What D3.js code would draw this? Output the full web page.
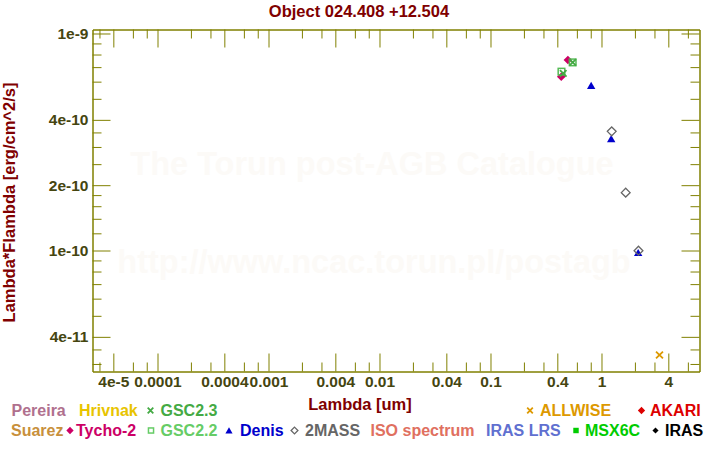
<!DOCTYPE html>
<html><head><meta charset="utf-8">
<script src="https://cdn.jsdelivr.net/npm/d3@7"></script>
<style>
html,body{margin:0;padding:0;background:#fff;}
svg{display:block;font-family:"Liberation Sans",Arial,Helvetica,sans-serif;font-weight:bold;}
</style></head>
<body>
<script>
// ---- data ----
const titleText = "Object 024.408 +12.504";
const xTitle = "Lambda [um]";
const yTitle = "Lambda*Flambda [erg/cm^2/s]";

const tychoLambda = [0.498, 0.434];
const tychoFlux   = [7.55e-10, 6.32e-10];
const gsc22Lambda = [0.436, 0.550];
const gsc22Flux   = [6.67e-10, 7.36e-10];
const gsc23Lambda = [0.452, 0.550];
const gsc23Flux   = [6.55e-10, 7.36e-10];
const denisLambda = [0.807, 1.223, 2.14];
const denisFlux   = [5.76e-10, 3.27e-10, 9.77e-11];
const twomassLambda = [1.236, 1.652, 2.154];
const twomassFlux   = [3.54e-10, 1.848e-10, 9.98e-11];
const allwiseLambda = [3.33];
const allwiseFlux   = [3.30e-11];

const xMajorTicks = [4e-5, 1e-4, 4e-4, 1e-3, 4e-3, 1e-2, 4e-2, 1e-1, 4e-1, 1, 4];
const xMajorLabels = ["4e-5","0.0001","0.0004","0.001","0.004","0.01","0.04","0.1","0.4","1","4"];
const xMinorMult = [2, 3, 6, 8];
const yMajorTicks = [1e-9, 4e-10, 2e-10, 1e-10, 4e-11];
const yMajorLabels = ["1e-9","4e-10","2e-10","1e-10","4e-11"];
const yMinorMult = [1.2, 1.4, 1.6, 1.8, 2.5, 3, 3.5, 5, 6, 7, 8, 9];

const legendNames = ["Pereira","Hrivnak","GSC2.3","ALLWISE","AKARI",
                     "Suarez","Tycho-2","GSC2.2","Denis","2MASS","ISO spectrum","IRAS LRS","MSX6C","IRAS"];
const legendColors = ["#b0708e","#e8c400","#44aa44","#dd9900","#dd0000",
                      "#c8903c","#cc0066","#66cc66","#0000cc","#666666","#e07060","#6070d0","#00cc00","#000000"];
const legendMarkers = [null,null,"x","x","diamond",
                       null,"diamond","square","triangle","odiamond",null,null,"fsquare","dot"];

// ---- layout ----
const W = 720, H = 450;
const L = 92.5, R = 699.5, T = 29.5, B = 371.5;
const axisColor = "#808000", tickLabelColor = "#454510", titleColor = "#800000";
const legendRow = [0,0,0,0,0,1,1,1,1,1,1,1,1,1];
const legendMarkX = [null,null,150.5,530,641.5, null,70,151,229,294.5,null,null,576,655.5];
const legendTextX = [11.5,79,160.5,540,650, 11,76,160.5,240,305,370.5,486,585,665];
const legendRowY = [416, 436];

const svg = d3.select("body").append("svg").attr("width", W).attr("height", H);

const x = d3.scaleLog().domain([Math.pow(10,-4.5856), Math.pow(10,0.8829)]).range([L, R]);
const y = d3.scaleLog().domain([Math.pow(10,-10.5576), Math.pow(10,-8.98157)]).range([B, T]);

// watermark
svg.append("text").attr("x", 372).attr("y", 175).attr("text-anchor","middle")
  .attr("font-size", 32.5).attr("fill", "#fcfaf7").text("The Torun post-AGB Catalogue");
svg.append("text").attr("x", 374).attr("y", 273).attr("text-anchor","middle")
  .attr("font-size", 32.5).attr("fill", "#fcfaf7").text("http://www.ncac.torun.pl/postagb");

// tick values
function minorVals(mult, scale){
  const [lo, hi] = scale.domain();
  const out = [];
  for (let e = Math.floor(Math.log10(lo)) - 1; e <= Math.ceil(Math.log10(hi)); e++){
    mult.forEach(m => { const v = m*Math.pow(10,e); if (v>=lo && v<=hi) out.push(v); });
  }
  return out;
}
const xMinor = minorVals(xMinorMult, x);
const yMinor = minorVals(yMinorMult, y);
const xMajAll = xMajorTicks.filter(v => v>=x.domain()[0] && v<=x.domain()[1]);

function styleAxis(g){
  g.selectAll("path.domain").attr("stroke", axisColor).attr("stroke-width", 1);
  g.selectAll(".tick line").attr("stroke", axisColor).attr("stroke-width", 1);
  g.selectAll(".tick text").attr("fill", tickLabelColor).attr("font-size", 15.5)
    .attr("font-family", '"Liberation Sans",Arial,sans-serif').attr("font-weight","bold");
}
const fmtX = v => xMajorLabels[xMajorTicks.indexOf(v)];
const fmtY = v => yMajorLabels[yMajorTicks.findIndex(t => Math.abs(t-v)/t < 1e-6)];

// bottom
svg.append("g").attr("transform",`translate(0,${B})`)
  .call(d3.axisBottom(x).tickValues(xMinor).tickSizeInner(-9).tickSizeOuter(0).tickFormat(""))
  .call(styleAxis);
svg.append("g").attr("transform",`translate(0,${B})`)
  .call(d3.axisBottom(x).tickValues(xMajAll).tickSizeInner(-18).tickSizeOuter(0).tickPadding(4.3).tickFormat(fmtX))
  .call(styleAxis);
// top
svg.append("g").attr("transform",`translate(0,${T})`)
  .call(d3.axisTop(x).tickValues(xMinor).tickSizeInner(-9).tickSizeOuter(0).tickFormat(""))
  .call(styleAxis);
svg.append("g").attr("transform",`translate(0,${T})`)
  .call(d3.axisTop(x).tickValues(xMajAll).tickSizeInner(-18).tickSizeOuter(0).tickFormat(""))
  .call(styleAxis);
// left
svg.append("g").attr("transform",`translate(${L},0)`)
  .call(d3.axisLeft(y).tickValues(yMinor).tickSizeInner(-9).tickSizeOuter(0).tickFormat(""))
  .call(styleAxis);
svg.append("g").attr("transform",`translate(${L},0)`)
  .call(d3.axisLeft(y).tickValues(yMajorTicks).tickSizeInner(-18).tickSizeOuter(0).tickPadding(4).tickFormat(fmtY))
  .call(styleAxis);
// right
svg.append("g").attr("transform",`translate(${R},0)`)
  .call(d3.axisRight(y).tickValues(yMinor).tickSizeInner(-9).tickSizeOuter(0).tickFormat(""))
  .call(styleAxis);
svg.append("g").attr("transform",`translate(${R},0)`)
  .call(d3.axisRight(y).tickValues(yMajorTicks).tickSizeInner(-18).tickSizeOuter(0).tickFormat(""))
  .call(styleAxis);

// titles
svg.append("text").attr("x", 359).attr("y", 16.7).attr("text-anchor","middle")
  .attr("font-size", 16.5).attr("fill", titleColor).text(titleText);
svg.append("text").attr("x", 360).attr("y", 410).attr("text-anchor","middle")
  .attr("font-size", 16.5).attr("fill", titleColor).text(xTitle);
svg.append("text").attr("transform","translate(14.5,202.5) rotate(-90)").attr("text-anchor","middle")
  .attr("font-size", 16.5).attr("fill", titleColor).text(yTitle);

// marker drawing
function marker(g, type, cx, cy, color, s){
  s = s || 1;
  if (type === "diamond"){
    g.append("path").attr("d", `M${cx},${cy-4.3*s}L${cx+4.3*s},${cy}L${cx},${cy+4.3*s}L${cx-4.3*s},${cy}Z`).attr("fill", color);
  } else if (type === "odiamond"){
    g.append("path").attr("d", `M${cx},${cy-4*s}L${cx+4*s},${cy}L${cx},${cy+4*s}L${cx-4*s},${cy}Z`)
      .attr("fill","none").attr("stroke", color).attr("stroke-width", 1.3);
  } else if (type === "triangle"){
    g.append("path").attr("d", `M${cx},${cy-3.8*s}L${cx+4.2*s},${cy+3.4*s}L${cx-4.2*s},${cy+3.4*s}Z`).attr("fill", color);
  } else if (type === "square"){
    g.append("rect").attr("x", cx-3*s).attr("y", cy-3*s).attr("width", 6*s).attr("height", 6*s)
      .attr("fill","none").attr("stroke", color).attr("stroke-width", 1.5);
  } else if (type === "fsquare"){
    g.append("rect").attr("x", cx-3.2*s).attr("y", cy-3.2*s).attr("width", 6.4*s).attr("height", 6.4*s).attr("fill", color);
  } else if (type === "x"){
    const r = 3.3*s;
    g.append("path").attr("d", `M${cx-r},${cy-r}L${cx+r},${cy+r}M${cx+r},${cy-r}L${cx-r},${cy+r}`)
      .attr("stroke", color).attr("stroke-width", 1.8).attr("fill","none");
  } else if (type === "dot"){
    g.append("path").attr("d", `M${cx},${cy-3.6*s}L${cx+3.6*s},${cy}L${cx},${cy+3.6*s}L${cx-3.6*s},${cy}Z`).attr("fill", color);
  }
}

// data marks
const plot = svg.append("g");
function series(lams, fluxes, type, color, s){
  lams.forEach((l,i) => marker(plot, type, x(l), y(fluxes[i]), color, s));
}
series(tychoLambda, tychoFlux, "diamond", "#cc0066", 1);
series(gsc22Lambda, gsc22Flux, "square", "#55bb55", 1.1);
series(gsc23Lambda, gsc23Flux, "x", "#44aa44", 1);
series(denisLambda, denisFlux, "triangle", "#0000cc", 1);
series(twomassLambda, twomassFlux, "odiamond", "#666666", 1.1);
series(allwiseLambda, allwiseFlux, "x", "#dd9900", 1.05);

// legend
const lg = svg.append("g");
legendNames.forEach((n,i) => {
  const yy = legendRowY[legendRow[i]];
  if (legendMarkers[i]) marker(lg, legendMarkers[i], legendMarkX[i], yy-5.5, legendColors[i], 0.85);
  lg.append("text").attr("x", legendTextX[i]).attr("y", yy).attr("font-size", 16)
    .attr("fill", legendColors[i]).text(n);
});
</script>
</body></html>
